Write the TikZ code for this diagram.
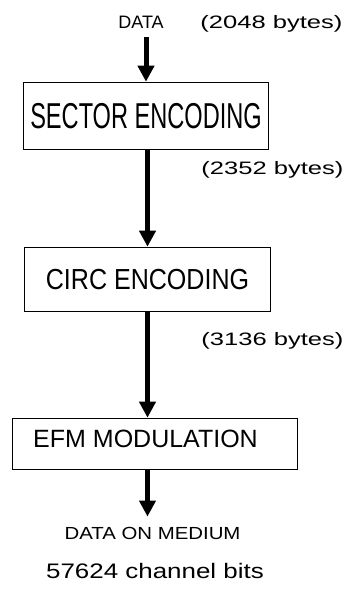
\documentclass[tikz,border=0pt]{standalone}
\usepackage{graphicx}
\usepackage{fontspec}
\setmainfont{Liberation Sans}
\usetikzlibrary{arrows.meta}

\begin{document}
\begin{tikzpicture}[x=1pt, y=1pt,
    stagebox/.style={draw, line width=1.6pt, inner sep=0pt},
    flowarrow/.style={line width=5pt, -{Triangle[width=16pt,length=16pt]}},
    note/.style={anchor=base, inner sep=0pt, font=\fontsize{18}{18}\selectfont}]

  \useasboundingbox (0,0) rectangle (346,-595);

  % ---- input ----
  \node[note] (data) at (141,-28) {DATA};
  \node[note] (inbytes) at (271.5,-28) {\scalebox{1.42}[1]{(2048 bytes)}};

  % ---- encoding stages ----
  \node[stagebox, minimum width=245pt, minimum height=67pt,
        font=\fontsize{36}{36}\selectfont] (sector) at (146,-116)
    {\scalebox{0.655}[1]{SECTOR ENCODING}};
  \node[note] (sectorbytes) at (272.5,-174) {\scalebox{1.42}[1]{(2352 bytes)}};

  \node[stagebox, minimum width=246pt, minimum height=64pt,
        font=\fontsize{29}{29}\selectfont] (circ) at (147.5,-279.5)
    {\scalebox{0.864}[1]{CIRC ENCODING}};
  \node[note] (circbytes) at (272.5,-345) {\scalebox{1.42}[1]{(3136 bytes)}};

  % text sits a little left of and above the middle of this box
  \node[stagebox, minimum width=285pt, minimum height=51pt, text depth=10pt,
        font=\fontsize{25}{25}\selectfont] (efm) at (155,-444)
    {EFM MODULATION\hspace*{19pt}};

  % ---- output ----
  \node[note, font=\fontsize{17.5}{17.5}\selectfont] (medium) at (152.5,-539)
    {\scalebox{1.165}[1]{DATA ON MEDIUM}};
  \node[note, font=\fontsize{21}{21}\selectfont] (bits) at (155,-578)
    {\scalebox{1.235}[1]{57624 channel bits}};

  % ---- flow ----
  \draw[flowarrow, shorten <=9pt] (sector.north |- data.south) -- (sector.north);
  \draw[flowarrow] (circ.north |- sector.south) -- (circ.north);
  \draw[flowarrow] (circ.south) -- (circ.south |- efm.north);
  \draw[flowarrow, shorten >=10pt] (circ.south |- efm.south) -- (circ.south |- medium.north);

\end{tikzpicture}
\end{document}
